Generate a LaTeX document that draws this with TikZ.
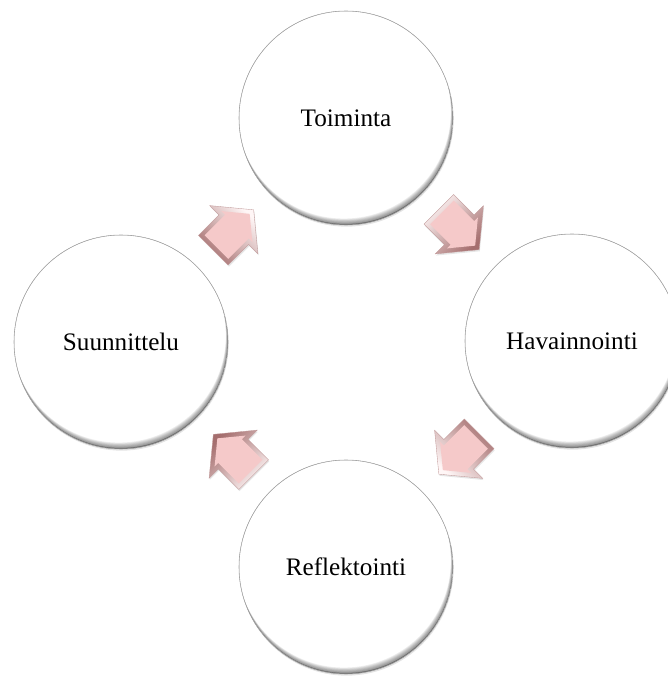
\documentclass[tikz,border=0pt]{standalone}
\usepackage{fontspec}
\setmainfont{Liberation Serif}
\usetikzlibrary{shadows,calc}

\definecolor{petal}{RGB}{245,201,201}
\definecolor{petaldark}{RGB}{165,110,110}
\definecolor{petallight}{RGB}{255,246,246}

\begin{document}
\begin{tikzpicture}[
    stage/.style={circle, draw=black!35, line width=0.5pt, fill=white, minimum size=6.42cm, inner sep=0pt,
        font=\fontsize{21.5}{26}\selectfont,
        drop shadow={shadow xshift=0.5pt, shadow yshift=-1.4pt, opacity=0.22},
        path picture={\foreach \k in {1,...,8}
            \fill[black, opacity=0.07, even odd rule] (path picture bounding box.center) circle (3.21cm)
                ($(path picture bounding box.center)+(-0.008*\k,0.024*\k)$) circle (3.21cm);
            \fill[black, opacity=0.25, even odd rule] (path picture bounding box.center) circle (3.21cm)
                ($(path picture bounding box.center)+(-0.01,0.03)$) circle (3.21cm);}},
    rim/.style={draw=petaldark!70, line width=0.3pt, top color=petallight, bottom color=petaldark, shading angle=#1,
        drop shadow={shadow xshift=0.6pt, shadow yshift=-1.4pt, opacity=0.2}},
    face/.style={fill=petal}
]
\useasboundingbox (0,0) rectangle (20.04,20.34);

\node[stage] (act) at (10.38,16.80) {Toiminta};
\node[stage] (obs) at (17.16,10.11) {Havainnointi};
\node[stage] (refl) at (10.38,3.33) {Reflektointi};
\node[stage] (plan) at (3.63,10.08) {Suunnittelu};

% arrows between the stages
\foreach \a/\b/\r/\n in {plan/act/45/pa, act/obs/-45/ao, obs/refl/-135/or, refl/plan/135/rp}{
    \coordinate (\n) at ($(\a)!0.5!(\b)$);
    \begin{scope}[shift={(\n)}, rotate=\r]
        \path[rim=-\r] (-0.855,0.63) -- (0.015,0.63) -- (0.015,1.02) -- (0.855,0)
            -- (0.015,-1.02) -- (0.015,-0.63) -- (-0.855,-0.63) -- cycle;
        \path[face] (-0.725,0.50) -- (0.145,0.50) -- (0.145,0.656) -- (0.685,0)
            -- (0.145,-0.656) -- (0.145,-0.50) -- (-0.725,-0.50) -- cycle;
    \end{scope}
}
\end{tikzpicture}
\end{document}
